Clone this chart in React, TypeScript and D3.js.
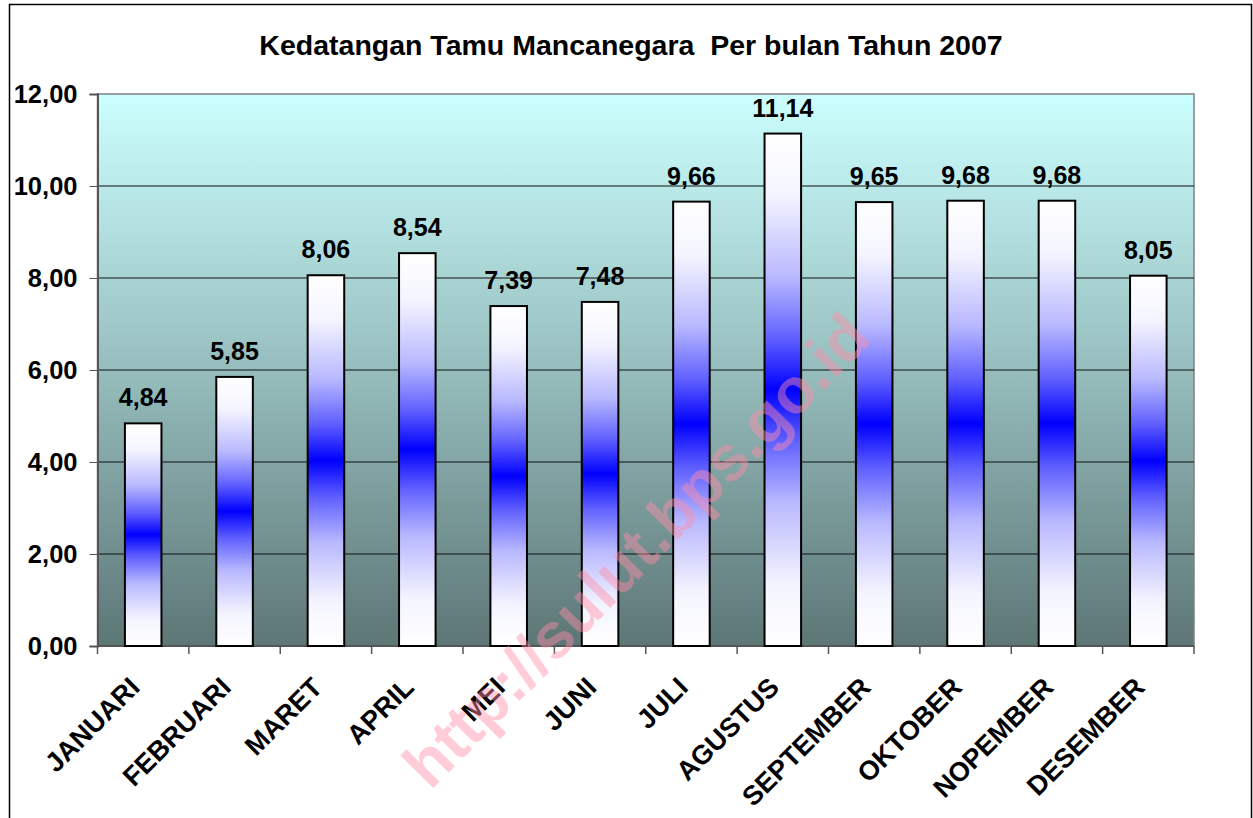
import React, { useEffect, useRef } from 'react';
import * as d3 from 'd3';

const width = 1253,
  height = 818;

const months = ['JANUARI', 'FEBRUARI', 'MARET', 'APRIL', 'MEI', 'JUNI', 'JULI', 'AGUSTUS', 'SEPTEMBER', 'OKTOBER', 'NOPEMBER', 'DESEMBER'];
const values = [4.84, 5.85, 8.06, 8.54, 7.39, 7.48, 9.66, 11.14, 9.65, 9.68, 9.68, 8.05];
const yTicks = [0, 2, 4, 6, 8, 10, 12];
const title = 'Kedatangan Tamu Mancanegara  Per bulan Tahun 2007';
const watermark = 'http://sulut.bps.go.id';

const plot = { left: 97.5, top: 94, right: 1194, bottom: 646 };

const fmt = (v: number) => d3.format('.2f')(v).replace('.', ',');

export default function App() {
  const ref = useRef<SVGSVGElement>(null);

  useEffect(() => {
    const svg = d3.select(ref.current);
    svg.selectAll('*').remove();

    const x = d3.scaleBand<string>().domain(months).range([plot.left, plot.right]).paddingInner(0.6).paddingOuter(0.3);
    const y = d3.scaleLinear().domain([0, 12]).range([plot.bottom, plot.top]);

    const defs = svg.append('defs');
    const bg = defs.append('linearGradient').attr('id', 'bg').attr('x1', 0).attr('y1', 0).attr('x2', 0).attr('y2', 1);
    bg.append('stop').attr('offset', 0).attr('stop-color', '#ccffff');
    bg.append('stop').attr('offset', 0.45).attr('stop-color', '#9cc4c4');
    bg.append('stop').attr('offset', 1).attr('stop-color', '#5d7676');

    const bar = defs.append('linearGradient').attr('id', 'bar').attr('x1', 0).attr('y1', 0).attr('x2', 0).attr('y2', 1);
    [
      [0, '#ffffff'], [0.12, '#f4f4ff'], [0.28, '#b8b8ff'], [0.4, '#6060ff'], [0.5, '#0000ff'],
      [0.6, '#6060ff'], [0.72, '#b8b8ff'], [0.88, '#f4f4ff'], [1, '#ffffff']
    ].forEach(([o, c]) => bar.append('stop').attr('offset', o as number).attr('stop-color', c as string));

    // outer frame
    svg.append('rect').attr('x', 9.5).attr('y', 4.5).attr('width', 1242).attr('height', 830)
      .attr('fill', 'white').attr('stroke', '#000').attr('stroke-width', 1.5);

    svg.append('text').attr('x', 631).attr('y', 55).attr('text-anchor', 'middle')
      .style('white-space', 'pre').attr('font-size', 28.5).attr('font-weight', 'bold')
      .text(title);

    svg.append('rect').attr('x', plot.left).attr('y', plot.top)
      .attr('width', plot.right - plot.left).attr('height', plot.bottom - plot.top)
      .attr('fill', 'url(#bg)').attr('stroke', '#808080').attr('stroke-width', 1.5);

    // grid
    svg.append('g').selectAll('line').data(yTicks.filter(t => t > 0 && t < 12)).enter().append('line')
      .attr('x1', plot.left).attr('x2', plot.right)
      .attr('y1', d => y(d)).attr('y2', d => y(d))
      .attr('stroke', '#111').attr('stroke-width', 1);

    // axes
    const yAxis = svg.append('g').attr('transform', `translate(${plot.left},0)`)
      .call(d3.axisLeft(y).tickValues(yTicks).tickSize(8).tickPadding(12).tickFormat(d => fmt(+d)));
    yAxis.select('.domain').attr('stroke', '#555').attr('stroke-width', 2);
    yAxis.selectAll('.tick line').attr('stroke', '#555');
    yAxis.selectAll('text').attr('font-size', 25.5).attr('font-weight', 'bold').attr('fill', '#000')
      .attr('font-family', 'Liberation Sans, Arial, sans-serif');

    svg.append('line').attr('x1', plot.left).attr('x2', plot.right).attr('y1', plot.bottom).attr('y2', plot.bottom)
      .attr('stroke', '#555').attr('stroke-width', 2);
    svg.append('g').selectAll('line').data(d3.range(months.length + 1)).enter().append('line')
      .attr('x1', i => plot.left + i * (plot.right - plot.left) / months.length)
      .attr('x2', i => plot.left + i * (plot.right - plot.left) / months.length)
      .attr('y1', plot.bottom).attr('y2', plot.bottom + 8)
      .attr('stroke', '#555').attr('stroke-width', 1.5);

    // bars
    svg.append('g').selectAll('rect').data(values).enter().append('rect')
      .attr('x', (d, i) => x(months[i])!)
      .attr('y', d => y(d))
      .attr('width', x.bandwidth())
      .attr('height', d => plot.bottom - y(d))
      .attr('fill', 'url(#bar)').attr('stroke', '#000').attr('stroke-width', 2);

    svg.append('g').selectAll('text').data(values).enter().append('text')
      .attr('x', (d, i) => x(months[i])! + x.bandwidth() / 2)
      .attr('y', d => y(d) - 17)
      .attr('text-anchor', 'middle').attr('font-size', 25).attr('font-weight', 'bold')
      .text(d => fmt(d));

    // month labels
    svg.append('g').selectAll('text').data(months).enter().append('text')
      .attr('transform', d => `translate(${x(d)! + x.bandwidth() / 2 - 2},${plot.bottom + 43}) rotate(-45)`)
      .attr('text-anchor', 'end').attr('font-size', 27).attr('font-weight', 'bold')
      .text(d => d);

    // watermark
    svg.append('text').attr('transform', 'translate(636,550) rotate(-45.5)')
      .attr('text-anchor', 'middle').attr('dy', '0.35em')
      .attr('font-size', 64).attr('font-weight', 'bold')
      .attr('fill', '#ff8fa8').attr('fill-opacity', 0.45)
      .text(watermark);
  }, []);

  return (
    <svg ref={ref} width={width} height={height}
      style={{ position: 'absolute', left: 0, top: 0, fontFamily: 'Liberation Sans, Arial, sans-serif' }} />
  );
}
